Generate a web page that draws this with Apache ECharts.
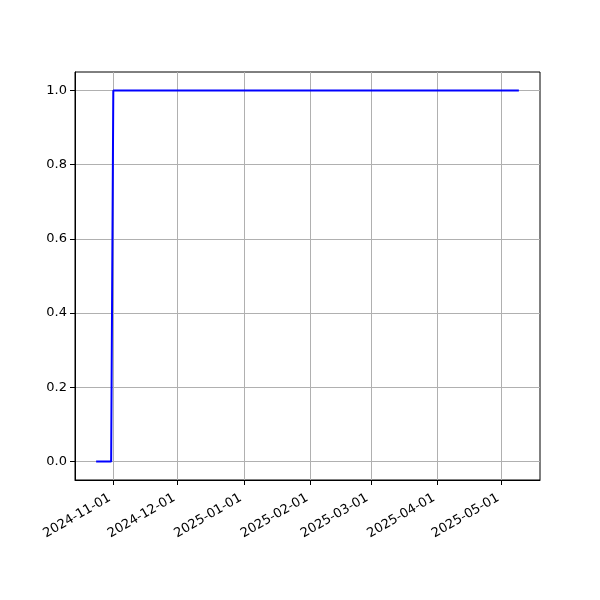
<!DOCTYPE html>
<html><head><meta charset="utf-8">
<script src="https://cdn.jsdelivr.net/npm/echarts@6/dist/echarts.min.js"></script>
<style>html,body{margin:0;padding:0;background:#fff}#c{width:600px;height:600px}</style>
</head><body><div id="c"></div>
<script>
const dates = ["2024-10-24", "2024-10-31", "2024-11-01", "2025-05-09"];
const values = [0, 0, 1, 1];
const xTicks = ["2024-11-01","2024-12-01","2025-01-01","2025-02-01","2025-03-01","2025-04-01","2025-05-01"];
const yTicks = [0, 0.2, 0.4, 0.6, 0.8, 1.0];

const ts = d => { const p = d.split('-').map(Number); return Date.UTC(p[0], p[1]-1, p[2]); };
const t0 = ts(dates[0]), t1 = ts(dates[dates.length-1]);
const pad = (t1 - t0) * 0.05;
const pad2 = n => (n < 10 ? '0' : '') + n;
const fmt = v => { const d = new Date(v); return d.getUTCFullYear() + '-' + pad2(d.getUTCMonth()+1) + '-' + pad2(d.getUTCDate()); };
const xTickTs = xTicks.map(ts);

const chart = echarts.init(document.getElementById('c'), null, {renderer: 'canvas'});
chart.setOption({
  animation: false,
  backgroundColor: '#fff',
  grid: {left: 75, right: 60, top: 72, bottom: 120, show: true, borderColor: '#000', borderWidth: 1, containLabel: false},
  xAxis: {
    type: 'value',
    min: t0 - pad, max: t1 + pad,
    axisLine: {show: true, onZero: false, lineStyle: {color: '#000', width: 1}},
    axisTick: {show: true, length: 5, lineStyle: {color: '#000'}, customValues: xTickTs},
    axisLabel: {show: true, rotate: 30, color: '#000', fontFamily: 'DejaVu Sans', fontSize: 13, margin: 15,
      padding: [0, 4, 0, 0], customValues: xTickTs, formatter: v => fmt(v)},
    splitLine: {show: true, lineStyle: {color: '#b0b0b0', width: 1}}
  },
  yAxis: {
    type: 'value', min: -0.05, max: 1.05,
    axisLine: {show: true, onZero: false, lineStyle: {color: '#000', width: 1}},
    axisTick: {show: true, length: 5, lineStyle: {color: '#000'}, customValues: yTicks},
    axisLabel: {show: true, color: '#000', fontFamily: 'DejaVu Sans', fontSize: 13, margin: 8,
      customValues: yTicks, formatter: v => v.toFixed(1)},
    splitLine: {show: true, lineStyle: {color: '#b0b0b0', width: 1}}
  },
  series: [{
    type: 'line',
    data: dates.map((d, i) => [ts(d), values[i]]),
    showSymbol: false, symbol: 'none',
    lineStyle: {color: '#0000ff', width: 2},
    clip: true
  }]
});
</script></body></html>
